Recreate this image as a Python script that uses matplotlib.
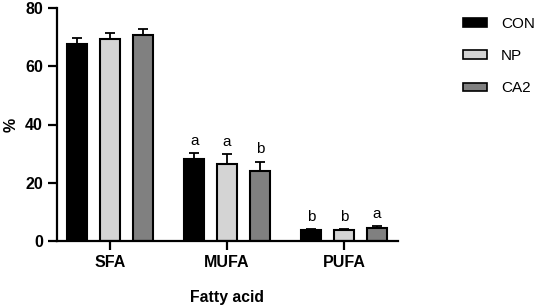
import numpy as np
import matplotlib.pyplot as plt
from matplotlib.patches import Patch

plt.rcParams["font.family"] = ["Liberation Sans", "DejaVu Sans"]

CATEGORIES = ["SFA", "MUFA", "PUFA"]
GROUPS = ["CON", "NP", "CA2"]
MEANS = {
    "CON": [67.7, 28.1, 3.7],
    "NP": [69.3, 26.4, 3.6],
    "CA2": [70.7, 24.1, 4.3],
}
ERRS = {
    "CON": [2.1, 2.0, 0.3],
    "NP": [2.2, 3.3, 0.3],
    "CA2": [2.1, 3.1, 0.8],
}
LETTERS = {
    "CON": ["", "a", "b"],
    "NP": ["", "a", "b"],
    "CA2": ["", "b", "a"],
}
COLORS = {"CON": "#000000", "NP": "#d4d4d4", "CA2": "#808080"}

fig = plt.figure(figsize=(5.36, 3.07), dpi=100)
ax = fig.add_axes([57 / 536, 66.3 / 307, 341 / 536, 232.4 / 307])

x = np.arange(len(CATEGORIES))
width = 0.17
offsets = [-0.28, 0.0, 0.28]
for g, off in zip(GROUPS, offsets):
    means = np.array(MEANS[g])
    errs = np.array(ERRS[g])
    ax.bar(x + off, means, width, color=COLORS[g], edgecolor="black", linewidth=1.5, zorder=2)
    ax.errorbar(x + off, means, yerr=[np.zeros_like(errs), errs], fmt="none", ecolor="black",
                elinewidth=1.3, capsize=3.5, capthick=1.3, zorder=1)
    for xi, m, e, lab in zip(x + off, means, errs, LETTERS[g]):
        if lab:
            ax.text(xi, m + e + 1.8, lab, ha="center", va="bottom", fontsize=11)

ax.set_xlim(-0.453, 2.46)
ax.set_ylim(0, 80)
ax.set_yticks([0, 20, 40, 60, 80])
ax.set_xticks(x)
ax.set_xticklabels(CATEGORIES)
for s in ["top", "right"]:
    ax.spines[s].set_visible(False)
for s in ["left", "bottom"]:
    ax.spines[s].set_linewidth(1.6)
ax.tick_params(axis="both", width=1.6, length=6.5, labelsize=11.5)
for lbl in ax.get_xticklabels() + ax.get_yticklabels():
    lbl.set_fontweight("bold")
ax.set_xlabel("Fatty acid", fontsize=11.3, fontweight="bold", labelpad=15)
ax.set_ylabel("%", fontsize=11.5, fontweight="bold", labelpad=5)

handles = [Patch(facecolor=COLORS[g], edgecolor="black", linewidth=1.2) for g in GROUPS]
fig.legend(handles, GROUPS, loc="upper left", bbox_to_anchor=(449 / 536, 1 - 3 / 307), frameon=False,
           fontsize=11, handlelength=1.6, handleheight=0.5, labelspacing=1.2, handletextpad=0.9)

fig.savefig("out.png", dpi=100)
